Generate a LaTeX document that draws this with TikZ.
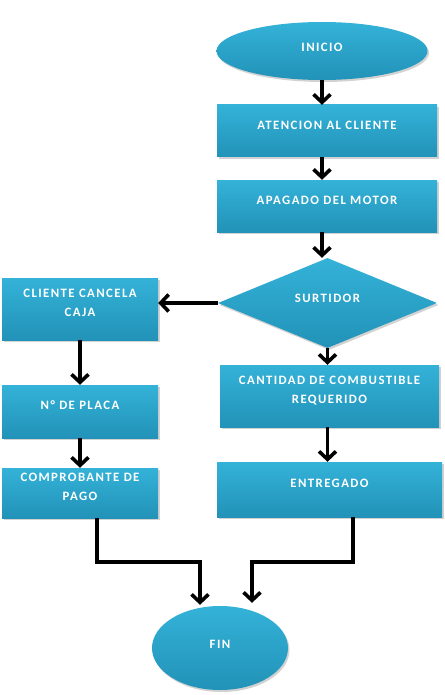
\documentclass[tikz,border=0pt]{standalone}
\usepackage{fontspec}
\setmainfont{Carlito}
\usetikzlibrary{shapes.geometric,arrows.meta,shadows,calc}
\definecolor{boxtop}{RGB}{52,178,216}
\definecolor{boxbot}{RGB}{34,146,184}
\begin{document}
\begin{tikzpicture}[x=1pt,y=-1pt,
  fc/.style={top color=boxtop,bottom color=boxbot,draw=none,text=white,
    font=\bfseries\fontsize{12.8}{19}\selectfont\addfontfeature{LetterSpace=11},
    align=center,inner sep=2pt,
    drop shadow={opacity=0.35,shadow xshift=1.5pt,shadow yshift=-2pt}},
  box/.style={fc,rectangle,text depth=12pt},
  term/.style={fc,ellipse},
  dec/.style={fc,diamond,inner sep=0pt},
  arr/.style={line width=3.6pt,-{Straight Barb[length=8pt,width=17pt]}}
]
\useasboundingbox[fill=white] (0,0) rectangle (444,695);

\node[term,minimum width=211pt,minimum height=58pt,text depth=8pt] (ini) at (322,51) {INICIO};
\node[box,minimum width=220pt,minimum height=52pt] (ate) at (327,131) {ATENCION AL CLIENTE};
\node[box,minimum width=220pt,minimum height=52pt] (apa) at (327,206) {APAGADO DEL MOTOR};
\node[dec,minimum width=219pt,minimum height=90pt,text depth=10pt] (sur) at (327.5,303) {SURTIDOR};
\node[box,minimum width=219pt,minimum height=62pt] (can) at (329.5,396) {CANTIDAD DE COMBUSTIBLE\\REQUERIDO};
\node[box,minimum width=225pt,minimum height=55pt] (ent) at (329.5,489.5) {ENTREGADO};
\node[box,minimum width=156pt,minimum height=62pt] (cli) at (80,309) {CLIENTE CANCELA\\CAJA};
\node[box,minimum width=156pt,minimum height=53pt] (pla) at (80,411.5) {N° DE PLACA};
\node[box,minimum width=156pt,minimum height=50pt] (com) at (80,493) {COMPROBANTE DE\\PAGO};
\node[term,minimum width=136pt,minimum height=84pt,text depth=8pt] (fin) at (220,648) {FIN};

\draw[arr] (ini.south) -- (ini.south |- ate.north);
\draw[arr] (ate.south -| ini.south) -- (ini.south |- apa.north);
\draw[arr] (apa.south -| ini.south) -- (ini.south |- sur.north);
\draw[arr] (sur.west) -- (sur.west -| cli.east);
\draw[arr] (sur.south) -- (sur.south |- can.north);
\draw[arr] (can.south -| sur.south) -- (sur.south |- ent.north);
\draw[arr] (cli.south) -- (pla.north);
\draw[arr] (pla.south) -- (com.north);
\draw[arr] ([xshift=17pt]com.south) -- ++(0,44) -| ([xshift=-20pt,yshift=1pt]fin.north);
\draw[arr] ([xshift=23.5pt]ent.south) -- ++(0,45) -| ([xshift=32pt,yshift=3pt]fin.north);
\end{tikzpicture}
\end{document}
